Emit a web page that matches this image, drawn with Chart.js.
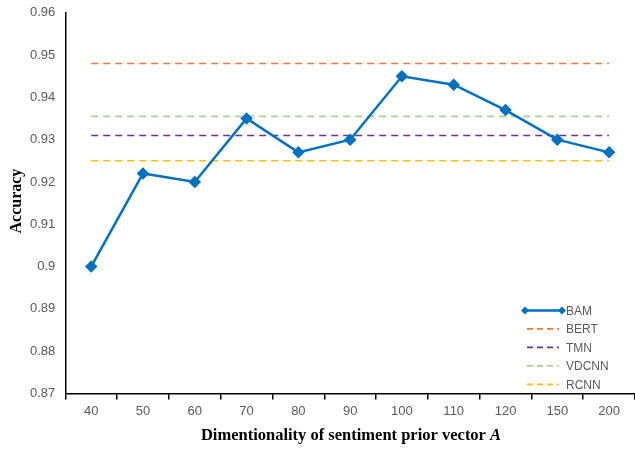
<!DOCTYPE html>
<html>
<head>
<meta charset="utf-8">
<script src="https://cdn.jsdelivr.net/npm/chart.js@4"></script>
<style>
  html, body { margin: 0; padding: 0; background: #fff; overflow: hidden; }
  #wrap { width: 635px; height: 449px; overflow: hidden; position: relative; }
  #myChart { position: absolute; left: 0; top: -5px; }
</style>
</head>
<body>
<div id="wrap"><canvas id="myChart" width="642" height="454"></canvas></div>
<script>
// data
var dims = ["40", "50", "60", "70", "80", "90", "100", "110", "120", "150", "200"];
var bam = [0.900, 0.922, 0.920, 0.935, 0.927, 0.930, 0.945, 0.943, 0.937, 0.930, 0.927];
var bert = 0.948;
var tmn = 0.931;
var vdcnn = 0.9355;
var rcnn = 0.925;
var yTicks = ["0.87", "0.88", "0.89", "0.9", "0.91", "0.92", "0.93", "0.94", "0.95", "0.96"];

function flat(v) {
    return dims.map(function () { return v; });
}

var gray = "#595959";
var titleFont = "'Liberation Serif', 'Times New Roman', serif";

// legend drawn by hand so it sits inside the plot, bottom right
var cornerLegend = {
    id: "cornerLegend",
    afterDraw: function (chart) {
        var ctx = chart.ctx;
        var area = chart.chartArea;
        var x0 = area.right - 110;
        var y0 = area.bottom - 83;
        var gap = 18.5;
        ctx.save();
        ctx.font = "12px 'Liberation Sans', Arial, sans-serif";
        ctx.textBaseline = "middle";
        chart.data.datasets.forEach(function (ds, i) {
            var y = y0 + i * gap;
            ctx.strokeStyle = ds.borderColor;
            ctx.lineWidth = ds.borderWidth;
            if (ds.borderDash && ds.borderDash.length) {
                ctx.setLineDash([6, 4]);
                ctx.beginPath();
                ctx.moveTo(x0 + 2, y);
                ctx.lineTo(x0 + 34, y);
                ctx.stroke();
            } else {
                ctx.setLineDash([]);
                ctx.beginPath();
                ctx.moveTo(x0, y);
                ctx.lineTo(x0 + 37, y);
                ctx.stroke();
                ctx.fillStyle = ds.borderColor;
                [x0, x0 + 37].forEach(function (px) {
                    ctx.beginPath();
                    ctx.moveTo(px, y - 4);
                    ctx.lineTo(px + 4, y);
                    ctx.lineTo(px, y + 4);
                    ctx.lineTo(px - 4, y);
                    ctx.closePath();
                    ctx.fill();
                });
            }
            ctx.setLineDash([]);
            ctx.fillStyle = gray;
            ctx.fillText(ds.label, x0 + 41, y + 1);
        });
        ctx.restore();
    }
};

// axis titles: x title has an italic A at the end
var axisTitles = {
    id: "axisTitles",
    afterDraw: function (chart) {
        var ctx = chart.ctx;
        var area = chart.chartArea;
        var main = "Dimentionality of sentiment prior vector ";
        var fMain = "bold 16.5px " + titleFont;
        var fIt = "bold italic 16.5px " + titleFont;
        ctx.save();
        ctx.fillStyle = "#000";
        ctx.textBaseline = "middle";
        ctx.font = fMain;
        var w1 = ctx.measureText(main).width;
        ctx.font = fIt;
        var w2 = ctx.measureText("A").width;
        var x = 351 - (w1 + w2) / 2;
        var y = chart.height - 13;
        ctx.font = fMain;
        ctx.fillText(main, x, y);
        ctx.font = fIt;
        ctx.fillText("A", x + w1, y);

        ctx.translate(17, (area.top + area.bottom) / 2 - 2);
        ctx.rotate(-Math.PI / 2);
        ctx.textAlign = "center";
        ctx.font = "bold 16px " + titleFont;
        ctx.fillText("Accuracy", 0, 0);
        ctx.restore();
    }
};

function dashed(label, value, color) {
    return {
        label: label,
        data: flat(value),
        borderColor: color,
        backgroundColor: color,
        borderWidth: 1.6,
        borderDash: [7, 5],
        pointRadius: 0,
        pointHoverRadius: 0,
        fill: false
    };
}

new Chart("myChart", {
    type: "line",
    data: {
        labels: dims,
        datasets: [
            {
                label: "BAM",
                data: bam,
                borderColor: "#0070C0",
                backgroundColor: "#0070C0",
                borderWidth: 2.5,
                pointStyle: "rectRot",
                pointRadius: 4.5,
                tension: 0,
                fill: false
            },
            dashed("BERT", bert, "#ED7D31"),
            dashed("TMN", tmn, "#7030A0"),
            dashed("VDCNN", vdcnn, "#A9D18E"),
            dashed("RCNN", rcnn, "#FFC000")
        ]
    },
    options: {
        responsive: false,
        animation: false,
        layout: { padding: { top: 0, right: 0, left: 20, bottom: 2 } },
        plugins: {
            legend: { display: false },
            tooltip: { enabled: false }
        },
        scales: {
            x: {
                offset: true,
                grid: {
                    offset: true,
                    drawOnChartArea: false,
                    drawTicks: true,
                    tickLength: 6,
                    color: "#000",
                    lineWidth: 1.5
                },
                border: { color: "#000", width: 1.5 },
                ticks: {
                    color: gray,
                    font: { family: "'Liberation Sans', Arial, sans-serif", size: 13 },
                    padding: 4,
                    maxRotation: 0
                },
                title: {
                    display: true,
                    text: " ",
                    font: { family: titleFont, size: 15, weight: "bold" },
                    padding: { top: 6, bottom: 0 }
                }
            },
            y: {
                min: 0.87,
                max: 0.96,
                grid: { display: false, drawTicks: false },
                border: { color: "#000", width: 1.5 },
                ticks: {
                    stepSize: 0.01,
                    color: gray,
                    font: { family: "'Liberation Sans', Arial, sans-serif", size: 13 },
                    padding: 10,
                    callback: function (v, i) { return yTicks[i]; }
                },
                title: { display: false }
            }
        }
    },
    plugins: [cornerLegend, axisTitles]
});
</script>
</body>
</html>
